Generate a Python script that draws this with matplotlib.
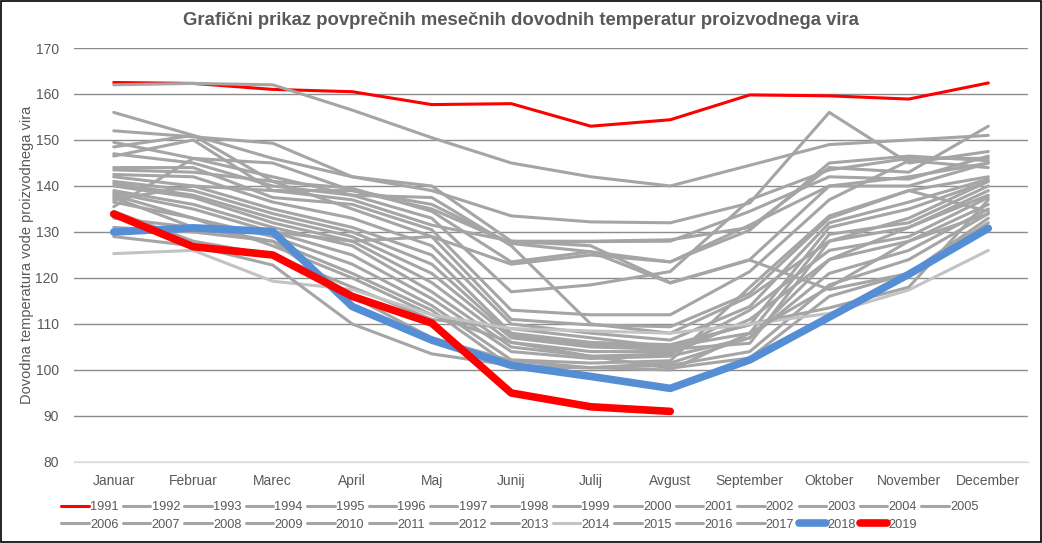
import matplotlib
matplotlib.use("Agg")
import matplotlib.pyplot as plt
from matplotlib.patches import Rectangle

plt.rcParams['font.family'] = ['Liberation Sans', 'DejaVu Sans']

months = ["Januar", "Februar", "Marec", "April", "Maj", "Junij", "Julij",
          "Avgust", "September", "Oktober", "November", "December"]

y1991 = [162.5, 162.3, 161.0, 160.5, 157.7, 157.9, 153.0, 154.4, 159.8, 159.6, 158.9, 162.4]
y1992 = [162.0, 162.3, 162.0, 156.5, 150.5, 145.0, 142.0, 140.0, 144.5, 149.0, 150.0, 151.0]
y1993 = [156.0, 151.0, 146.0, 142.0, 139.0, 133.5, 132.2, 132.0, 136.3, 156.0, 145.0, 147.5]
y1994 = [152.0, 150.7, 149.3, 142.0, 140.0, 128.0, 128.0, 128.3, 131.0, 144.0, 143.0, 153.0]
y1995 = [149.5, 146.0, 145.0, 139.0, 136.0, 127.5, 127.9, 128.0, 134.5, 142.0, 141.5, 146.5]
y1996 = [148.5, 151.0, 141.0, 139.5, 134.5, 123.5, 125.7, 123.5, 130.4, 145.0, 146.5, 145.5]
y1997 = [147.0, 145.0, 140.0, 138.0, 133.0, 117.0, 118.5, 121.4, 137.0, 143.5, 146.0, 146.0]
y1998 = [146.5, 150.0, 139.0, 137.0, 131.5, 128.0, 127.0, 119.0, 124.0, 140.0, 140.0, 145.0]
y1999 = [144.0, 144.0, 137.5, 136.0, 130.5, 113.0, 112.0, 112.0, 121.4, 137.0, 145.5, 144.0]
y2000 = [143.5, 143.0, 141.0, 135.0, 129.0, 111.0, 109.8, 109.4, 116.7, 133.0, 139.0, 142.0]
y2001 = [142.5, 142.0, 136.5, 133.0, 127.0, 110.0, 108.0, 106.5, 113.8, 132.0, 136.5, 141.5]
y2002 = [142.0, 140.0, 135.0, 131.0, 125.0, 108.0, 106.0, 105.5, 109.8, 131.0, 135.0, 141.0]
y2003 = [141.0, 139.0, 134.0, 130.0, 123.0, 107.5, 105.5, 105.0, 108.0, 129.5, 132.0, 140.0]
y2004 = [140.5, 138.0, 133.0, 129.0, 121.0, 107.0, 105.0, 104.5, 105.8, 128.0, 131.0, 138.0]
y2005 = [140.0, 137.5, 132.0, 128.0, 119.0, 106.0, 104.0, 104.0, 113.0, 126.0, 129.0, 137.5]
y2006 = [139.0, 136.0, 131.0, 127.0, 117.0, 105.0, 103.0, 103.5, 111.0, 124.0, 128.0, 136.0]
y2007 = [138.5, 135.0, 130.0, 125.0, 115.5, 104.0, 102.5, 103.0, 107.0, 121.0, 126.0, 135.0]
y2008 = [138.0, 133.0, 129.0, 123.0, 114.0, 102.2, 101.5, 102.0, 118.0, 133.5, 139.0, 134.5]
y2009 = [137.5, 131.0, 128.0, 121.0, 113.0, 100.7, 100.5, 101.0, 104.0, 118.5, 124.0, 134.0]
y2010 = [137.0, 140.0, 139.0, 139.0, 135.0, 127.5, 125.7, 118.9, 123.9, 117.5, 121.0, 133.0]
y2011 = [136.5, 133.0, 127.0, 120.0, 112.0, 106.0, 103.0, 100.4, 102.6, 116.0, 121.0, 132.0]
y2012 = [135.5, 146.0, 142.0, 138.0, 137.5, 127.0, 110.0, 108.0, 116.0, 128.0, 133.0, 141.0]
y2013 = [134.5, 128.0, 125.0, 118.0, 111.0, 109.0, 107.0, 105.0, 110.0, 113.5, 118.0, 137.0]
y2014 = [125.3, 126.0, 119.3, 117.5, 112.0, 109.0, 108.5, 108.0, 110.0, 112.3, 117.4, 126.0]
y2015 = [133.0, 131.0, 130.0, 128.0, 129.0, 123.0, 125.0, 123.5, 131.5, 140.0, 142.0, 145.0]
y2016 = [131.0, 130.0, 128.0, 116.0, 107.0, 102.0, 100.5, 100.0, 108.0, 118.0, 128.0, 134.0]
y2017 = [129.0, 127.0, 122.8, 110.0, 103.5, 101.0, 100.5, 101.5, 107.0, 124.0, 131.0, 139.0]
y2018 = [130.0, 130.9, 130.1, 113.8, 106.5, 101.0, 98.6, 96.0, 102.2, 111.5, 120.8, 130.8]
y2019 = [133.9, 126.8, 125.0, 116.0, 110.2, 95.0, 92.0, 91.0]

years = list(range(1991, 2020))
series = [y1991, y1992, y1993, y1994, y1995, y1996, y1997, y1998, y1999, y2000,
          y2001, y2002, y2003, y2004, y2005, y2006, y2007, y2008, y2009, y2010,
          y2011, y2012, y2013, y2014, y2015, y2016, y2017, y2018, y2019]

fig = plt.figure(figsize=(10.42, 5.43), dpi=100)
ax = fig.add_axes([0.071, 0.1492, 0.9156, 0.7624])

handles = []
for yr, vals in zip(years, series):
    x = list(range(len(vals)))
    if yr == 1991:
        c, lw, z = '#FF0000', 2.2, 2
    elif yr == 2018:
        c, lw, z = '#558ED5', 5.5, 4
    elif yr == 2019:
        c, lw, z = '#FF0000', 5.5, 5
    elif yr == 2014:
        c, lw, z = '#C3C3C3', 2.2, 3
    else:
        c, lw, z = '#A5A5A5', 2.2, 3
    h, = ax.plot(x, vals, color=c, lw=lw, zorder=z, solid_capstyle='round',
                 solid_joinstyle='round', label=str(yr))
    handles.append(h)

ax.set_xlim(-0.5, 11.5)
ax.set_ylim(80, 170)
ax.set_yticks(range(80, 171, 10))
ax.set_xticks(range(12))
ax.set_xticklabels(months)
ax.grid(axis='y', color='#8C8C8C', lw=1.0, zorder=0)
ax.set_axisbelow(True)
for s in ['top', 'right', 'left']:
    ax.spines[s].set_visible(False)
ax.spines['bottom'].set_color('#D9D9D9')
ax.tick_params(axis='both', length=0, labelsize=10, labelcolor='#595959')
ax.tick_params(axis='y', pad=11)
ax.tick_params(axis='x', pad=9)
ax.set_ylabel("Dovodna temperatura vode proizvodnega vira", fontsize=10.5,
              color='#595959', labelpad=1)

fig.suptitle("Grafični prikaz povprečnih mesečnih dovodnih temperatur proizvodnega vira",
             fontsize=13.3, fontweight='bold', color='#595959', x=0.5, y=0.978)

ncol = 15
order = []
for c in range(ncol):
    for r in range(2):
        i = r * ncol + c
        if i < len(handles):
            order.append(i)
leg = fig.legend([handles[i] for i in order], [str(years[i]) for i in order],
                 ncol=ncol, loc='center', bbox_to_anchor=(0.499, 0.05),
                 frameon=False, fontsize=9.2, handlelength=2.15,
                 handletextpad=0.1, columnspacing=0.33, labelspacing=0.45,
                 labelcolor='#595959')

fig.patches.append(Rectangle((0.0005, 0.001), 0.999, 0.998, transform=fig.transFigure,
                             fill=False, edgecolor='black', lw=1.2))

fig.savefig("out.png", dpi=100, facecolor='white')
